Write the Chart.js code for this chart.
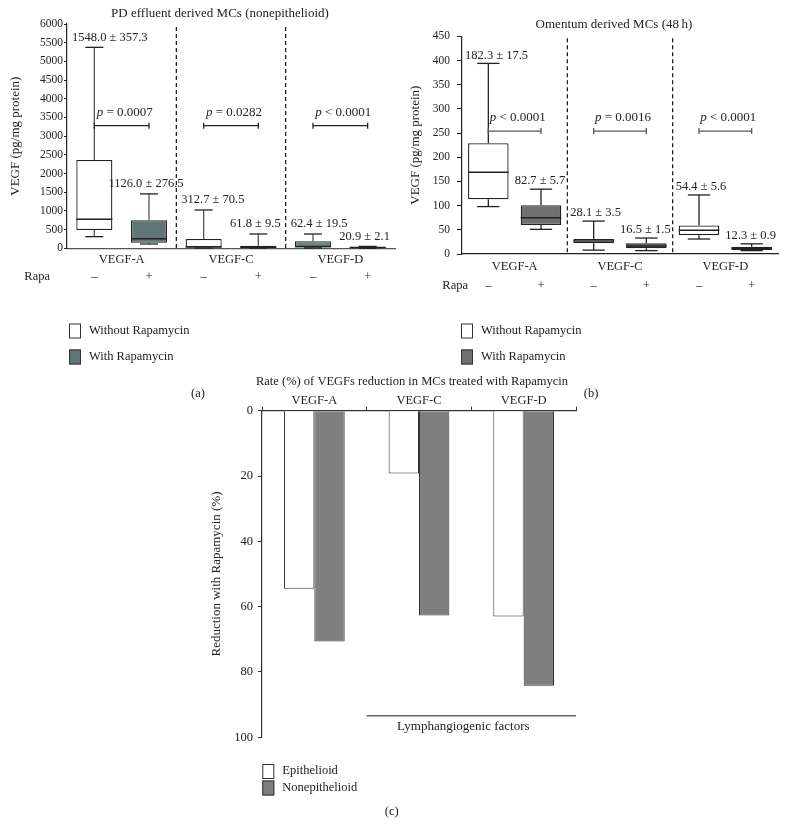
<!DOCTYPE html>
<html><head><meta charset="utf-8">
<script src="https://cdn.jsdelivr.net/npm/chart.js@4.4.1/dist/chart.umd.min.js"></script>
<style>
html,body{margin:0;padding:0;background:#fff;width:787px;height:826px;overflow:hidden}
.wrap{position:absolute}
</style></head><body>
<div class="wrap" style="left:0;top:0;width:440px;height:400px"><canvas id="ca"></canvas></div>
<div class="wrap" style="left:400px;top:0;width:428px;height:400px"><canvas id="cb"></canvas></div>
<div class="wrap" style="left:195px;top:360px;width:434px;height:466px"><canvas id="cc"></canvas></div>
<script>
// ---------- data ----------
const categories = ['VEGF-A', 'VEGF-C', 'VEGF-D'];

// Panel (a) PD effluent derived MCs (nonepithelioid) — box statistics, pg/mg protein
const aWithoutMin = [311, 5, 10];
const aWithoutQ1  = [490, 15, 20];
const aWithoutMed = [777, 40, 50];
const aWithoutQ3  = [2362, 250, 190];
const aWithoutMax = [5376, 1025, 383];
const aWithMin = [115, 5, 3];
const aWithQ1  = [150, 10, 5];
const aWithMed = [257, 30, 20];
const aWithQ3  = [750, 70, 35];
const aWithMax = [1455, 383, 50];
const aWithoutMean = ['1548.0 ± 357.3', '312.7 ± 70.5', '62.4 ± 19.5'];
const aWithMean    = ['1126.0 ± 276.5', '61.8 ± 9.5', '20.9 ± 2.1'];
const aPText = ['= 0.0007', '= 0.0282', '< 0.0001'];
const aPLevel = 3280;

// Panel (b) Omentum derived MCs (48 h)
const bWithoutMin = [98, 8, 31];
const bWithoutQ1  = [113, 22, 39];
const bWithoutMed = [169, 27, 49];
const bWithoutQ3  = [229, 31, 59];
const bWithoutMax = [394, 68, 122];
const bWithMin = [51, 7, 7];
const bWithQ1  = [60, 12, 8.5];
const bWithMed = [75, 16.5, 12];
const bWithQ3  = [101, 22, 15];
const bWithMax = [134, 33, 21];
const bWithoutMean = ['182.3 ± 17.5', '28.1 ± 3.5', '54.4 ± 5.6'];
const bWithMean    = ['82.7 ± 5.7', '16.5 ± 1.5', '12.3 ± 0.9'];
const bPText = ['< 0.0001', '= 0.0016', '< 0.0001'];
const bPLevel = 254;

// Panel (c) Rate (%) of VEGFs reduction
const epithelioid    = [54.5, 19.2, 63.0];
const nonepithelioid = [70.7, 62.7, 84.2];
const lymphLevel = 93.4;

// ---------- helpers ----------
const FONT = "'Liberation Serif','DejaVu Serif',serif";
Chart.defaults.font.family = FONT;
Chart.defaults.font.size = 12.5;
Chart.defaults.color = '#222';
Chart.defaults.animation = false;

function seg(ctx, x1, y1, x2, y2) { ctx.beginPath(); ctx.moveTo(x1, y1); ctx.lineTo(x2, y2); ctx.stroke(); }

function drawLegend(ctx, x, y0, dy, items) {
  ctx.font = '12.5px ' + FONT;
  ctx.textAlign = 'left'; ctx.textBaseline = 'middle';
  items.forEach((it, i) => {
    const y = y0 + i * dy;
    ctx.fillStyle = it.color; ctx.fillRect(x, y - 7, 12, 15);
    ctx.strokeStyle = '#333'; ctx.lineWidth = 1; ctx.strokeRect(x + 0.5, y - 6.5, 11, 14);
    ctx.fillStyle = '#222'; ctx.fillText(it.label, x + 20, y);
  });
}

// invisible right-hand spacer axis (keeps the full-width title centred like the original)
function spacer(w) {
  return { position: 'right', display: true, grid: { display: false, drawTicks: false },
           border: { display: false }, ticks: { display: false }, afterFit: s => { s.width = w; } };
}

function boxExtras(o) {
  return {
    id: 'boxExtras',
    afterDatasetsDraw(chart) {
      const ctx = chart.ctx, ys = chart.scales.y, xs = chart.scales.x, ca = chart.chartArea;
      ctx.save();
      const bounds = [ca.left];
      for (let i = 0; i < categories.length - 1; i++)
        bounds.push((xs.getPixelForValue(i) + xs.getPixelForValue(i + 1)) / 2);
      bounds.push(ca.right);
      // dashed separators
      ctx.strokeStyle = '#111'; ctx.lineWidth = 1.2; ctx.setLineDash([4, 3]);
      for (let i = 1; i < bounds.length - 1; i++) seg(ctx, bounds[i], ca.top + o.dashTop, bounds[i], ca.bottom);
      ctx.setLineDash([]);
      const centers = [];
      o.stats.forEach((s, di) => {
        const meta = chart.getDatasetMeta(di);
        centers[di] = [];
        meta.data.forEach((bar, i) => {
          const {x, width} = bar.getProps(['x', 'width'], true);
          centers[di][i] = x;
          const half = width * o.capFrac / 2;
          const pMax = ys.getPixelForValue(s.max[i]), pQ3 = ys.getPixelForValue(s.q3[i]);
          const pQ1 = ys.getPixelForValue(s.q1[i]), pMin = ys.getPixelForValue(s.min[i]);
          const pMed = ys.getPixelForValue(s.med[i]);
          ctx.lineWidth = 1.3; ctx.strokeStyle = o.whisker;
          seg(ctx, x, pQ3, x, pMax); seg(ctx, x, pQ1, x, pMin);
          ctx.strokeStyle = o.cap;
          seg(ctx, x - half, pMax, x + half, pMax); seg(ctx, x - half, pMin, x + half, pMin);
          ctx.strokeStyle = '#222'; ctx.lineWidth = 1.5;
          seg(ctx, x - width / 2, pMed, x + width / 2, pMed);
          // mean ± SEM label: centred on the box, but starting right of its group's left edge
          ctx.font = '12.5px ' + FONT; ctx.fillStyle = '#222';
          ctx.textAlign = 'center'; ctx.textBaseline = 'middle';
          const w = ctx.measureText(s.mean[i]).width;
          let cx = x + o.labelDx[di];
          cx = Math.max(cx, bounds[i] + o.labelGap + w / 2);
          cx = Math.min(cx, ca.right - 1 - w / 2);
          ctx.fillText(s.mean[i], cx, pMax - o.labelDy);
        });
      });
      // p-value brackets
      const yb = ys.getPixelForValue(o.pLevel);
      categories.forEach((c, i) => {
        const x1 = centers[0][i], x2 = centers[1][i];
        ctx.strokeStyle = o.bracket; ctx.lineWidth = 1.3;
        seg(ctx, x1, yb, x2, yb); seg(ctx, x1, yb - 3, x1, yb + 3); seg(ctx, x2, yb - 3, x2, yb + 3);
        ctx.fillStyle = '#222'; ctx.textBaseline = 'middle'; ctx.textAlign = 'left';
        ctx.font = 'italic 13px ' + FONT;
        const pw = ctx.measureText('p').width;
        ctx.font = '13px ' + FONT;
        const rest = ' ' + o.pText[i];
        const rw = ctx.measureText(rest).width;
        const sx = (x1 + x2) / 2 + 3 - (pw + rw) / 2;
        ctx.font = 'italic 13px ' + FONT; ctx.fillText('p', sx, yb - o.pDy);
        ctx.font = '13px ' + FONT; ctx.fillText(rest, sx + pw, yb - o.pDy);
      });
      // Rapa row
      ctx.font = '12.5px ' + FONT; ctx.fillStyle = '#222'; ctx.textBaseline = 'middle';
      ctx.textAlign = 'right'; ctx.fillText('Rapa', ca.left + o.rapaDx, o.rapaY);
      ctx.textAlign = 'center';
      centers[0].forEach(x => ctx.fillText('–', x, o.rapaY));
      centers[1].forEach(x => ctx.fillText('+', x, o.rapaY));
      // legend + panel letter
      drawLegend(ctx, o.legX, o.legY, 26, [
        {label: 'Without Rapamycin', color: '#ffffff'},
        {label: 'With Rapamycin', color: o.withColor}
      ]);
      ctx.font = '12.5px ' + FONT; ctx.textAlign = 'center'; ctx.fillStyle = '#222';
      ctx.fillText(o.letter, o.letterX, o.letterY);
      ctx.restore();
    }
  };
}

function boxChart(id, cfg) {
  return new Chart(document.getElementById(id), {
    type: 'bar',
    data: {
      labels: categories,
      datasets: [
        { label: 'Without Rapamycin', data: categories.map((c, i) => [cfg.s0.q1[i], cfg.s0.q3[i]]),
          backgroundColor: cfg.bg0, borderColor: '#222', borderWidth: 1.3, borderSkipped: false,
          barPercentage: cfg.barPct, categoryPercentage: 1 },
        { label: 'With Rapamycin', data: categories.map((c, i) => [cfg.s1.q1[i], cfg.s1.q3[i]]),
          backgroundColor: cfg.withColor, borderColor: '#222', borderWidth: 1.3, borderSkipped: false,
          barPercentage: cfg.barPct, categoryPercentage: 1 }
      ]
    },
    options: {
      responsive: true, maintainAspectRatio: false, animation: false,
      layout: { padding: cfg.padding },
      plugins: {
        legend: { display: false }, tooltip: { enabled: false },
        title: { display: true, text: cfg.title, font: { size: 13, weight: 'normal' }, color: '#222',
                 padding: cfg.titlePad }
      },
      scales: {
        x: {
          grid: { display: false, drawTicks: false },
          border: { display: true, color: cfg.xBorder, width: 1.3 },
          ticks: { padding: cfg.xPad, font: { size: 12.5 }, color: '#222' },
          afterFit: s => { s.height = 42; }
        },
        y: {
          min: 0, max: cfg.yMax,
          ticks: { stepSize: cfg.yStep, padding: cfg.yTickPad, font: { size: 11.5 }, color: '#222',
                   callback: v => String(v) },
          grid: { drawOnChartArea: false, drawTicks: true, tickLength: cfg.tickLen, color: '#222' },
          border: { display: true, color: '#222', width: 1.2 },
          title: { display: true, text: 'VEGF (pg/mg protein)', font: { size: 13 }, color: '#222',
                   padding: { top: 8.2, bottom: 0 } },
          afterFit: s => { s.width = cfg.yWidth; }
        },
        y2: spacer(cfg.rightSpace)
      }
    },
    plugins: [boxExtras(cfg.extras)]
  });
}

// ---------- panel (a) ----------
const aWithColor = '#617576';
boxChart('ca', {
  title: 'PD effluent derived MCs (nonepithelioid)',
  s0: {q1: aWithoutQ1, q3: aWithoutQ3}, s1: {q1: aWithQ1, q3: aWithQ3},
  bg0: ['#ffffff', '#ffffff', '#6f8384'], withColor: aWithColor, barPct: 0.66,
  padding: { left: 0, right: 0, top: 0, bottom: 109.7 },
  titlePad: { top: 6.2, bottom: 2.2 },
  xBorder: '#555', xPad: 4.2, yMax: 6000, yStep: 500, yTickPad: 1, tickLen: 3,
  yWidth: 67, rightSpace: 45,
  extras: {
    stats: [
      {min: aWithoutMin, q1: aWithoutQ1, med: aWithoutMed, q3: aWithoutQ3, max: aWithoutMax, mean: aWithoutMean},
      {min: aWithMin, q1: aWithQ1, med: aWithMed, q3: aWithQ3, max: aWithMax, mean: aWithMean}
    ],
    dashTop: 3, capFrac: 0.5, whisker: '#555', cap: '#222', bracket: '#222', labelDy: 10, labelGap: 5,
    labelDx: [0, -3],
    pLevel: aPLevel, pText: aPText, pDy: 13, rapaDx: -17, rapaY: 277,
    legX: 69, legY: 330.5, withColor: aWithColor, letter: '(a)', letterX: 198, letterY: 394
  }
});

// ---------- panel (b) ----------
const bWithColor = '#6f6f6f';
boxChart('cb', {
  title: 'Omentum derived MCs (48\u2009h)',
  s0: {q1: bWithoutQ1, q3: bWithoutQ3}, s1: {q1: bWithQ1, q3: bWithQ3},
  bg0: '#ffffff', withColor: bWithColor, barPct: 0.77,
  padding: { left: 0, right: 0, top: 0, bottom: 104 },
  titlePad: { top: 17.2, bottom: 3.5 },
  xBorder: '#222', xPad: 5.5, yMax: 450, yStep: 50, yTickPad: 7, tickLen: 5,
  yWidth: 62, rightSpace: 50,
  extras: {
    stats: [
      {min: bWithoutMin, q1: bWithoutQ1, med: bWithoutMed, q3: bWithoutQ3, max: bWithoutMax, mean: bWithoutMean},
      {min: bWithMin, q1: bWithQ1, med: bWithMed, q3: bWithQ3, max: bWithMax, mean: bWithMean}
    ],
    dashTop: 2, capFrac: 0.55, whisker: '#222', cap: '#222', bracket: '#555', labelDy: 8, labelGap: 3,
    labelDx: [0, -1],
    pLevel: bPLevel, pText: bPText, pDy: 14, rapaDx: 6, rapaY: 286,
    legX: 61, legY: 330.5, withColor: bWithColor, letter: '(b)', letterX: 191, letterY: 394
  }
});

// ---------- panel (c) ----------
const cExtras = {
  id: 'cExtras',
  afterDatasetsDraw(chart) {
    const ctx = chart.ctx, ys = chart.scales.y, xs = chart.scales.x, ca = chart.chartArea;
    ctx.save();
    const xl = (xs.getPixelForValue(0) + xs.getPixelForValue(1)) / 2;
    const yl = ys.getPixelForValue(lymphLevel);
    ctx.strokeStyle = '#666'; ctx.lineWidth = 1.5;
    seg(ctx, xl, yl, ca.right, yl);
    ctx.font = '13px ' + FONT; ctx.fillStyle = '#222'; ctx.textAlign = 'center'; ctx.textBaseline = 'middle';
    ctx.fillText('Lymphangiogenic factors', (xl + ca.right) / 2 - 8, yl + 10.5);
    drawLegend(ctx, 67.3, 411, 16.5, [
      {label: 'Epithelioid', color: '#ffffff'},
      {label: 'Nonepithelioid', color: '#7f7f7f'}
    ]);
    ctx.font = '12.5px ' + FONT; ctx.textAlign = 'center'; ctx.fillStyle = '#222';
    ctx.fillText('(c)', 196.7, 451.7);
    ctx.restore();
  }
};
new Chart(document.getElementById('cc'), {
  type: 'bar',
  data: {
    labels: categories,
    datasets: [
      { label: 'Epithelioid', data: epithelioid, backgroundColor: '#ffffff', borderColor: '#333',
        borderWidth: 1, barPercentage: 1, categoryPercentage: 0.58 },
      { label: 'Nonepithelioid', data: nonepithelioid, backgroundColor: '#7f7f7f', borderColor: '#333',
        borderWidth: 1, barPercentage: 1, categoryPercentage: 0.58 }
    ]
  },
  options: {
    responsive: true, maintainAspectRatio: false, animation: false,
    layout: { padding: { left: 0, right: 0, top: 0, bottom: 88.7 } },
    plugins: {
      legend: { display: false }, tooltip: { enabled: false },
      title: { display: true, text: 'Rate (%) of VEGFs reduction in MCs treated with Rapamycin',
               font: { size: 12.5, weight: 'normal' }, color: '#222', padding: { top: 14.2, bottom: 0 } }
    },
    scales: {
      x: {
        position: 'top',
        grid: { display: true, drawOnChartArea: false, drawTicks: true, tickLength: 4, color: '#333', offset: true },
        border: { display: true, color: '#333', width: 1.2 },
        ticks: { padding: -2, font: { size: 12.5 }, color: '#222' },
        afterFit: s => { s.height = 21.5; }
      },
      y: {
        min: 0, max: 100, reverse: true,
        ticks: { stepSize: 20, padding: 5, font: { size: 12.5 }, color: '#222' },
        grid: { drawOnChartArea: false, drawTicks: true, tickLength: 4, color: '#333' },
        border: { display: true, color: '#333', width: 1.2 },
        title: { display: true, text: 'Reduction with Rapamycin (%)', font: { size: 13 }, color: '#222',
                 padding: { top: 13.9, bottom: 0 } },
        afterFit: s => { s.width = 67; }
      },
      y2: spacer(53)
    }
  },
  plugins: [cExtras]
});
</script>
</body></html>
